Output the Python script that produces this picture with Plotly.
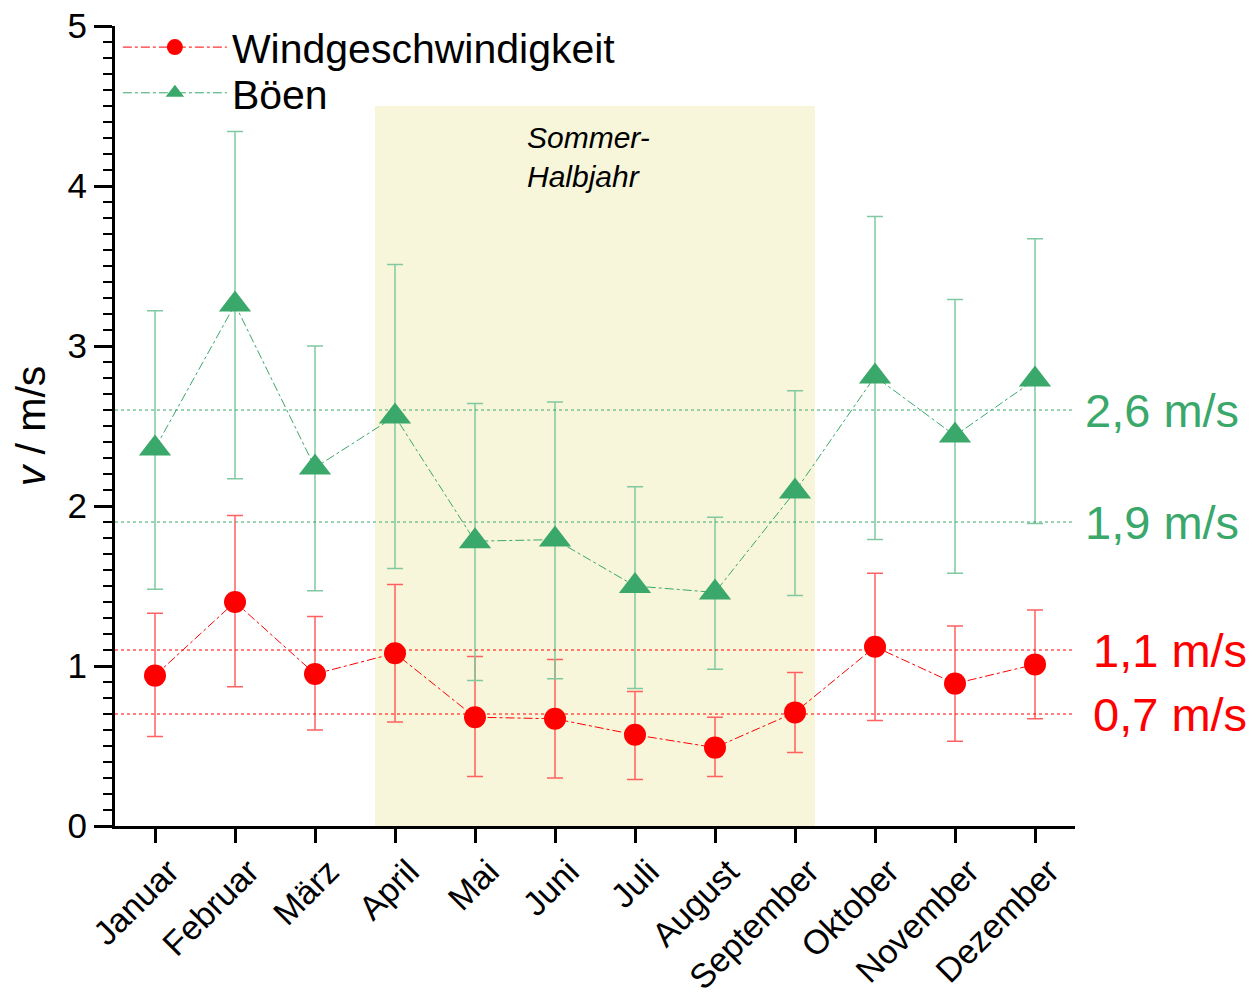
import plotly.graph_objects as go

# Monatswerte
months = ["Januar", "Februar", "März", "April", "Mai", "Juni", "Juli",
          "August", "September", "Oktober", "November", "Dezember"]

wind = [0.94, 1.40, 0.95, 1.08, 0.68, 0.67, 0.57, 0.49, 0.71, 1.12, 0.89, 1.01]
wind_hi = [1.33, 1.94, 1.31, 1.51, 1.06, 1.04, 0.84, 0.68, 0.96, 1.58, 1.25, 1.35]
wind_lo = [0.56, 0.87, 0.60, 0.65, 0.31, 0.30, 0.29, 0.31, 0.46, 0.66, 0.53, 0.67]

gust = [2.36, 3.26, 2.24, 2.56, 1.78, 1.79, 1.50, 1.46, 2.09, 2.81, 2.44, 2.79]
gust_hi = [3.22, 4.34, 3.00, 3.51, 2.64, 2.65, 2.12, 1.93, 2.72, 3.81, 3.29, 3.67]
gust_lo = [1.48, 2.17, 1.47, 1.61, 0.91, 0.92, 0.86, 0.98, 1.44, 1.79, 1.58, 1.89]

# Mittelwerte (Sommer / Winter)
ref_gust = [2.6, 1.9]
ref_wind = [1.1, 0.7]

red = "#ff0000"
red_err = "#ff6060"
green = "#3aa86b"
green_err = "#80c9a0"
font_family = "Arial, Liberation Sans, sans-serif"

x = list(range(len(months)))

fig = go.Figure()

# Sommer-Halbjahr shading (April .. September)
fig.add_shape(type="rect", xref="x", yref="y", x0=2.75, x1=8.25, y0=0, y1=4.5,
              fillcolor="#f8f6da", line=dict(width=0), layer="below")

fig.add_annotation(text="<i>Sommer-<br>Halbjahr</i>", xref="x", yref="y",
                   x=4.63, y=4.42, xanchor="left", yanchor="top", align="left",
                   showarrow=False, font=dict(size=30, color="black", family=font_family))

# reference lines + labels
for val in ref_gust:
    fig.add_shape(type="line", xref="paper", yref="y", x0=0, x1=1, y0=val, y1=val,
                  line=dict(color=green, width=1, dash="dot"))
    fig.add_annotation(text=f"{val:.1f} m/s".replace(".", ","), xref="paper", yref="y",
                       x=1.008, y=val, xanchor="left", yanchor="middle", showarrow=False,
                       font=dict(size=47, color=green, family=font_family))
for val in ref_wind:
    fig.add_shape(type="line", xref="paper", yref="y", x0=0, x1=1, y0=val, y1=val,
                  line=dict(color=red, width=1, dash="dot"))
    fig.add_annotation(text=f"{val:.1f} m/s".replace(".", ","), xref="paper", yref="y",
                       x=1.017, y=val, xanchor="left", yanchor="middle", showarrow=False,
                       font=dict(size=47, color=red, family=font_family))

fig.add_trace(go.Scatter(
    x=x, y=wind, name="Windgeschwindigkeit", mode="lines+markers", legend="legend",
    line=dict(color=red, width=1, dash="dashdot"),
    marker=dict(symbol="circle", size=22, color=red),
    error_y=dict(type="data", symmetric=False,
                 array=[h - m for h, m in zip(wind_hi, wind)],
                 arrayminus=[m - l for m, l in zip(wind, wind_lo)],
                 color=red_err, thickness=1.5, width=8),
))

fig.add_trace(go.Scatter(
    x=x, y=gust, name="Böen", mode="lines+markers", legend="legend2",
    line=dict(color=green, width=1, dash="dashdot"),
    marker=dict(symbol="triangle-up", size=28, color=green),
    error_y=dict(type="data", symmetric=False,
                 array=[h - m for h, m in zip(gust_hi, gust)],
                 arrayminus=[m - l for m, l in zip(gust, gust_lo)],
                 color=green_err, thickness=1.5, width=8),
))

legend_style = dict(xref="paper", yref="container", x=0.003, xanchor="left", yanchor="top",
                    font=dict(size=41, color="black", family=font_family),
                    bgcolor="rgba(0,0,0,0)", itemwidth=104)

fig.update_layout(
    width=1260, height=993,
    margin=dict(l=107, r=193, t=18, b=175, autoexpand=False),
    paper_bgcolor="white", plot_bgcolor="white",
    font=dict(family=font_family, color="black"),
    showlegend=True,
    legend=dict(legend_style, y=0.994),
    legend2=dict(legend_style, y=0.948),
    xaxis=dict(
        range=[-0.5, 11.5], tickvals=x, ticktext=months, tickangle=-45,
        showgrid=False, zeroline=False, automargin=False,
        showline=True, linecolor="black", linewidth=3,
        ticks="outside", ticklen=14, tickwidth=3, tickcolor="black",
        tickfont=dict(size=34, color="black"),
        ticklabelshift=14, ticklabelstandoff=-5, ticklabeloverflow="allow",
    ),
    yaxis=dict(
        range=[0, 5], dtick=1, showgrid=False, zeroline=False, automargin=False,
        showline=True, linecolor="black", linewidth=3,
        ticks="outside", ticklen=18, tickwidth=3, tickcolor="black",
        minor=dict(dtick=0.1, ticks="outside", ticklen=9, tickwidth=2, tickcolor="black"),
        tickfont=dict(size=35, color="black"), ticklabeloverflow="allow",
        title=dict(text="<i>v</i> / m/s", font=dict(size=41, color="black"), standoff=14),
    ),
)

fig.write_html("out.html")
